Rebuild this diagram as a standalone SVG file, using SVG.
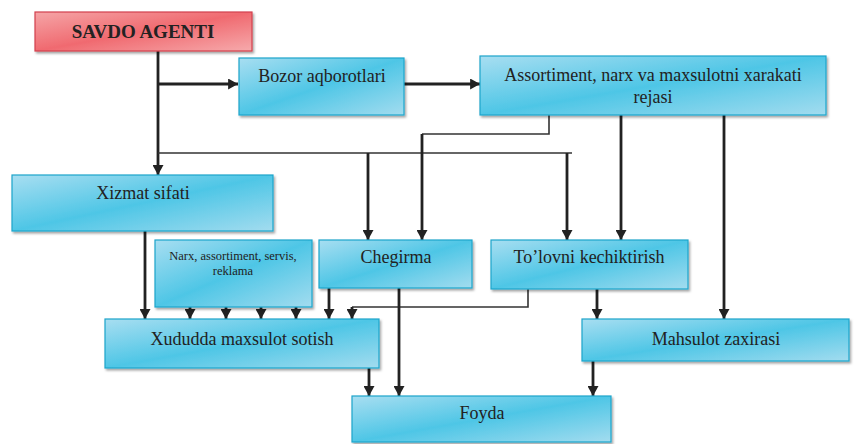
<svg xmlns="http://www.w3.org/2000/svg" width="868" height="444" viewBox="0 0 868 444">
  <defs>
    <linearGradient id="blue" x1="0" y1="0" x2="1" y2="1">
      <stop offset="0" stop-color="#a8def1"/>
      <stop offset="0.5" stop-color="#4ec6e6"/>
      <stop offset="1" stop-color="#a3dcef"/>
    </linearGradient>
    <linearGradient id="red" x1="0" y1="0" x2="1" y2="1">
      <stop offset="0" stop-color="#f5a5a7"/>
      <stop offset="0.5" stop-color="#f06a70"/>
      <stop offset="1" stop-color="#f6aaac"/>
    </linearGradient>
    <filter id="shadow" x="-5%" y="-10%" width="115%" height="130%">
      <feDropShadow dx="1.5" dy="2" stdDeviation="1.2" flood-color="#000" flood-opacity="0.35"/>
    </filter>
    <marker id="arrow" markerUnits="userSpaceOnUse" markerWidth="11" markerHeight="11" viewBox="0 0 10 10" refX="9" refY="5" orient="auto">
      <path d="M0,0 L9,5 L0,10 Z" fill="#222"/>
    </marker>
  </defs>
  <style>
    .box { fill: url(#blue); stroke: #1ba5cb; stroke-width: 1.2; filter: url(#shadow); }
    .head { fill: url(#red); stroke: #d2404e; stroke-width: 1.2; filter: url(#shadow); }
    .t { fill: #222; text-anchor: middle; }
    .thick { fill: none; stroke: #222; stroke-width: 2.8; }
    .thin { fill: none; stroke: #333; stroke-width: 1.6; }
  </style>

  <!-- connectors -->
  <g id="connectors">
    <path class="thick" d="M158,51 V175" marker-end="url(#arrow)"/>
    <path class="thick" d="M158,84 H238" marker-end="url(#arrow)"/>
    <path class="thick" d="M404,84 H480" marker-end="url(#arrow)"/>
    <path class="thin" d="M158,153 H572"/>
    <path class="thick" d="M368,153 V240" marker-end="url(#arrow)"/>
    <path class="thick" d="M567,153 V240" marker-end="url(#arrow)"/>
    <path class="thin" d="M549,115 V134 H422"/>
    <path class="thick" d="M422,134 V240" marker-end="url(#arrow)"/>
    <path class="thick" d="M621,115 V240" marker-end="url(#arrow)"/>
    <path class="thick" d="M724,115 V319" marker-end="url(#arrow)"/>
    <path class="thick" d="M145,231 V319" marker-end="url(#arrow)"/>
    <path class="thick" d="M190,307 V319" marker-end="url(#arrow)"/>
    <path class="thick" d="M226,307 V319" marker-end="url(#arrow)"/>
    <path class="thick" d="M261,307 V319" marker-end="url(#arrow)"/>
    <path class="thick" d="M296,307 V319" marker-end="url(#arrow)"/>
    <path class="thick" d="M329,288 V319" marker-end="url(#arrow)"/>
    <path class="thin" d="M528,289 V307 H352"/>
    <path class="thick" d="M352,307 V319" marker-end="url(#arrow)"/>
    <path class="thick" d="M399,288 V396" marker-end="url(#arrow)"/>
    <path class="thick" d="M369,368 V396" marker-end="url(#arrow)"/>
    <path class="thick" d="M597,289 V319" marker-end="url(#arrow)"/>
    <path class="thick" d="M593,361 V396" marker-end="url(#arrow)"/>
  </g>

  <g font-family="'Liberation Serif', 'Times New Roman', serif" font-size="18">
    <g id="savdo-agenti">
      <rect class="head" x="35" y="12" width="217" height="39"/>
      <text class="t" x="143" y="38" font-weight="bold" font-size="19">SAVDO AGENTI</text>
    </g>
    <g id="bozor">
      <rect class="box" x="239" y="58" width="165" height="57"/>
      <text class="t" x="322" y="82">Bozor aqborotlari</text>
    </g>
    <g id="assortiment">
      <rect class="box" x="480" y="56" width="346" height="59"/>
      <text class="t" x="653" y="81">Assortiment, narx va maxsulotni xarakati</text>
      <text class="t" x="653" y="103">rejasi</text>
    </g>
    <g id="xizmat">
      <rect class="box" x="12" y="175" width="261" height="56"/>
      <text class="t" x="143" y="199">Xizmat sifati</text>
    </g>
    <g id="narx">
      <rect class="box" x="155" y="240" width="157" height="67"/>
      <text class="t" x="233" y="260" font-size="12.5">Narx, assortiment, servis,</text>
      <text class="t" x="233" y="275" font-size="12.5">reklama</text>
    </g>
    <g id="chegirma">
      <rect class="box" x="319" y="240" width="153" height="48"/>
      <text class="t" x="396" y="263">Chegirma</text>
    </g>
    <g id="tolovni">
      <rect class="box" x="491" y="240" width="197" height="49"/>
      <text class="t" x="589" y="263">To’lovni kechiktirish</text>
    </g>
    <g id="xududda">
      <rect class="box" x="105" y="319" width="274" height="49"/>
      <text class="t" x="242" y="345">Xududda maxsulot sotish</text>
    </g>
    <g id="mahsulot">
      <rect class="box" x="582" y="319" width="267" height="42"/>
      <text class="t" x="716" y="345">Mahsulot zaxirasi</text>
    </g>
    <g id="foyda">
      <rect class="box" x="352" y="396" width="259" height="46"/>
      <text class="t" x="482" y="419">Foyda</text>
    </g>
  </g>
</svg>
